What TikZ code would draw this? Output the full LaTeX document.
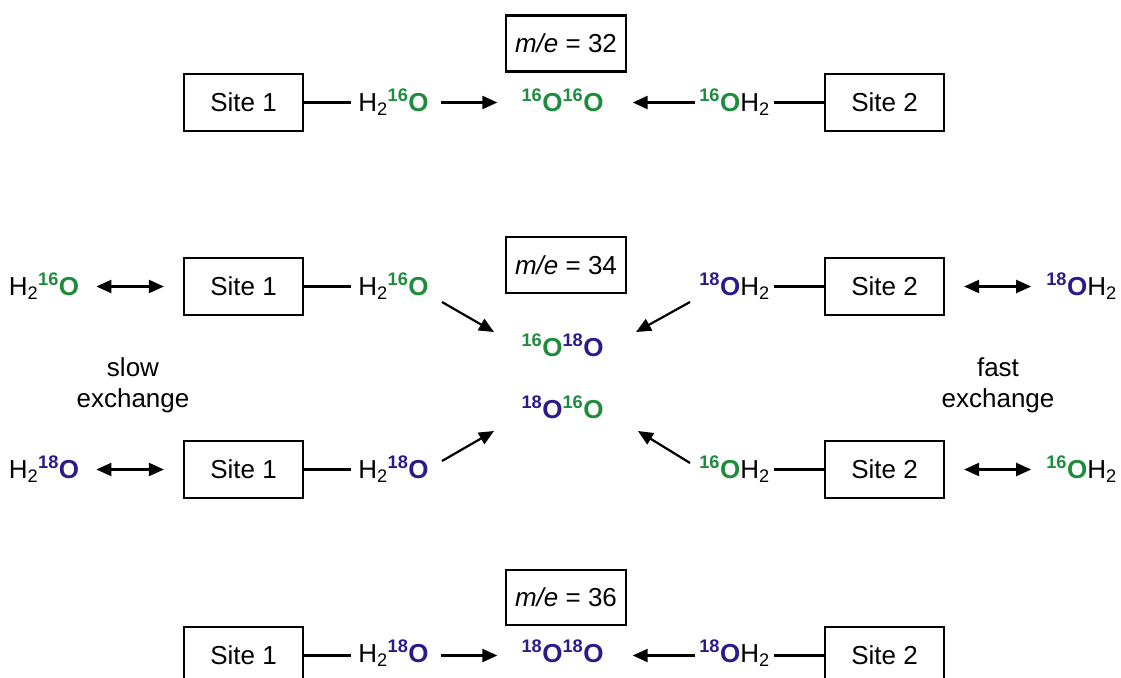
\documentclass[tikz,border=0pt]{standalone}
\usepackage{fontspec}
\setmainfont{Liberation Sans}
\usetikzlibrary{arrows.meta}
\definecolor{isogreen}{HTML}{1E8C3C}
\definecolor{isoblue}{HTML}{2A1A8A}
\newcommand{\Og}{\textcolor{isogreen}{\bfseries\textsuperscript{16}O}}
\newcommand{\Ob}{\textcolor{isoblue}{\bfseries\textsuperscript{18}O}}
\newcommand{\Hh}{H\textsubscript{2}}
\begin{document}
\begin{tikzpicture}[x=1pt,y=-1pt,
  font=\fontsize{26}{31}\selectfont,
  sitebox/.style={draw,line width=2.2pt,minimum width=119pt,minimum height=57pt,inner sep=0pt},
  mebox/.style={draw,line width=2.2pt,minimum width=120pt,minimum height=56pt,inner sep=0pt},
  lbl/.style={inner sep=0pt,anchor=base},
  conn/.style={line width=2.2pt},
  arr/.style={line width=2.2pt,-{Triangle[length=15pt,width=13pt]}},
  darr/.style={line width=2.2pt,{Triangle[length=15pt,width=13pt]}-{Triangle[length=15pt,width=13pt]}}]
\useasboundingbox (0,0) rectangle (1121,677);
% ---------- top row m/e = 32
\node[mebox] (m32) at (566,43.5) {\textit{m/e} = 32};
\node[sitebox] (s1a) at (243.5,102.5) {Site 1};
\node[sitebox] (s2a) at (884.5,102.5) {Site 2};
\node[lbl] (w1a) at (393.5,111) {\Hh\Og};
\node[lbl] (p32) at (562.5,111) {\Og\Og};
\node[lbl] (w2a) at (734.5,111) {\Og\Hh};
\draw[conn,shorten >=7pt] (s1a.east) -- (s1a.east -| w1a.west);
\draw[arr,shorten <=12pt,shorten >=24pt] (s1a.east -| w1a.east) -- (s1a.east -| p32.west);
\draw[arr,shorten <=4pt,shorten >=29pt] (s1a.east -| w2a.west) -- (s1a.east -| p32.east);
\draw[conn,shorten <=4pt] (s2a.west -| w2a.east) -- (s2a.west);
% ---------- middle m/e = 34
\node[mebox] (m34) at (566,265) {\textit{m/e} = 34};
\node[sitebox] (s1b) at (243.5,286.5) {Site 1};
\node[sitebox] (s1c) at (243.5,469.5) {Site 1};
\node[sitebox] (s2b) at (884.5,286.5) {Site 2};
\node[sitebox] (s2c) at (884.5,469.5) {Site 2};
\node[lbl] (xl1) at (44,295) {\Hh\Og};
\node[lbl] (xl2) at (44,478) {\Hh\Ob};
\node[lbl] (w1b) at (393.5,295) {\Hh\Og};
\node[lbl] (w1c) at (393.5,478) {\Hh\Ob};
\node[lbl] (w2b) at (734.5,295) {\Ob\Hh};
\node[lbl] (w2c) at (734.5,478) {\Og\Hh};
\node[lbl] (xr1) at (1081.5,295) {\Ob\Hh};
\node[lbl] (xr2) at (1081.5,478) {\Og\Hh};
\node[lbl] (p34a) at (562.5,356) {\Og\Ob};
\node[lbl] (p34b) at (562.5,418) {\Ob\Og};
\node[align=center,inner sep=0pt] (slow) at (133,385) {slow\\exchange};
\node[align=center,inner sep=0pt] (fast) at (998,385) {fast\\exchange};
% connectors
\draw[darr,shorten <=17pt,shorten >=19pt] (s1b.west -| xl1.east) -- (s1b.west);
\draw[darr,shorten <=17pt,shorten >=19pt] (s1c.west -| xl2.east) -- (s1c.west);
\draw[conn,shorten >=7pt] (s1b.east) -- (s1b.east -| w1b.west);
\draw[conn,shorten >=7pt] (s1c.east) -- (s1c.east -| w1c.west);
\draw[conn,shorten <=4pt] (s2b.west -| w2b.east) -- (s2b.west);
\draw[conn,shorten <=4pt] (s2c.west -| w2c.east) -- (s2c.west);
\draw[darr,shorten <=19pt,shorten >=15pt] (s2b.east) -- (s2b.east -| xr1.west);
\draw[darr,shorten <=19pt,shorten >=15pt] (s2c.east) -- (s2c.east -| xr2.west);
\coordinate (a1s) at (442,302); \coordinate (a1e) at (494,332);
\coordinate (a2s) at (442,461); \coordinate (a2e) at (494,431);
\coordinate (a3s) at (690,302); \coordinate (a3e) at (636,332);
\coordinate (a4s) at (690,463); \coordinate (a4e) at (638,431);
\draw[arr] (a1s) -- (a1e);
\draw[arr] (a2s) -- (a2e);
\draw[arr] (a3s) -- (a3e);
\draw[arr] (a4s) -- (a4e);
% ---------- bottom m/e = 36
\node[mebox,minimum height=55pt] (m36) at (566,597.5) {\textit{m/e} = 36};
\node[sitebox] (s1d) at (243.5,655.5) {Site 1};
\node[sitebox] (s2d) at (884.5,655.5) {Site 2};
\node[lbl] (w1d) at (393.5,662) {\Hh\Ob};
\node[lbl] (p36) at (562.5,662) {\Ob\Ob};
\node[lbl] (w2d) at (734.5,662) {\Ob\Hh};
\draw[conn,shorten >=7pt] (s1d.east) -- (s1d.east -| w1d.west);
\draw[arr,shorten <=12pt,shorten >=24pt] (s1d.east -| w1d.east) -- (s1d.east -| p36.west);
\draw[arr,shorten <=4pt,shorten >=29pt] (s1d.east -| w2d.west) -- (s1d.east -| p36.east);
\draw[conn,shorten <=4pt] (s2d.west -| w2d.east) -- (s2d.west);
\end{tikzpicture}
\end{document}
